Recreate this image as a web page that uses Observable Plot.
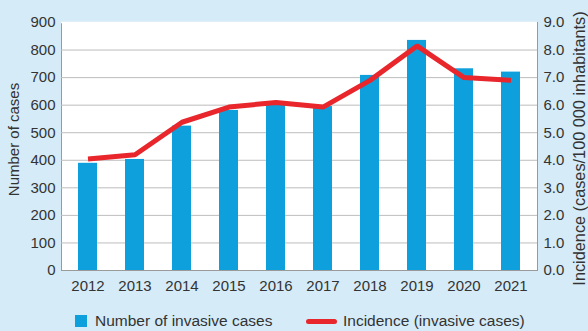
<!DOCTYPE html>
<html>
<head>
<meta charset="utf-8">
<script src="https://cdn.jsdelivr.net/npm/d3@7"></script>
<script src="https://cdn.jsdelivr.net/npm/@observablehq/plot@0.6"></script>
<style>
  html, body { margin: 0; padding: 0; background: #d5ebf8; }
  body { width: 588px; height: 331px; overflow: hidden; font-family: "Liberation Sans", Arial, sans-serif; color: #333; }
  #legend { position: relative; height: 31px; font-size: 15.5px; color: #333; }
  .item { position: absolute; top: 12px; display: flex; align-items: center; white-space: nowrap; }
  .sq { width: 12px; height: 12px; background: #0ea0dc; margin-right: 8px; }
  .ln { width: 31px; height: 5px; border-radius: 3px; background: #e8262b; margin-right: 6px; }
</style>
</head>
<body>
<div id="chart"></div>
<div id="legend"></div>
<script>
const years = ["2012","2013","2014","2015","2016","2017","2018","2019","2020","2021"];
const cases = [389, 403, 524, 581, 606, 595, 708, 835, 732, 720];
const incidence = [4.05, 4.2, 5.38, 5.93, 6.1, 5.93, 6.9, 8.15, 7.0, 6.9];
const leftTicks = [0,100,200,300,400,500,600,700,800,900];
const seriesNames = ["Number of invasive cases", "Incidence (invasive cases)"];
const leftTitle = "Number of cases";
const rightTitle = "Incidence (cases/100 000 inhabitants)";

const data = years.map((y, i) => ({year: y, cases: cases[i], incidence: incidence[i]}));
const blue = "#0ea0dc", red = "#e8262b";

const chart = Plot.plot({
  width: 588,
  height: 300,
  marginTop: 22,
  marginBottom: 30,
  marginLeft: 61,
  marginRight: 51,
  style: {background: "transparent", fontFamily: "'Liberation Sans', Arial, sans-serif", fontSize: "15px", color: "#333"},
  x: {domain: years, paddingInner: 0.6, paddingOuter: 0.3, label: null},
  y: {domain: [0, 900], label: null},
  marks: [
    Plot.frame({fill: "white", stroke: "#9a9a9a"}),
    Plot.gridY(leftTicks.slice(1, -1), {stroke: "#bdbdbd", strokeOpacity: 1}),
    Plot.ruleY([900], {stroke: "white", strokeWidth: 1.5}),
    Plot.barY(data, {x: "year", y: "cases", fill: blue}),
    Plot.line(data, {x: "year", y: d => d.incidence * 100, stroke: red, strokeWidth: 5, strokeLinejoin: "miter", strokeLinecap: "butt"}),
    Plot.axisX({tickSize: 0, tickPadding: 10, label: null}),
    Plot.axisY(leftTicks, {anchor: "left", tickSize: 0, tickPadding: 6, label: null}),
    Plot.axisY(leftTicks, {anchor: "right", tickSize: 0, tickPadding: 6, tickFormat: d => (d / 100).toFixed(1), label: null}),
    Plot.text([leftTitle], {frameAnchor: "left", textAnchor: "middle", lineAnchor: "middle", rotate: -90, dx: -47, dy: -7, fontSize: 15, fill: "#333"}),
    Plot.text([rightTitle], {frameAnchor: "right", textAnchor: "middle", lineAnchor: "middle", rotate: -90, dx: 42, dy: 2, fontSize: 16.3, fill: "#333"})
  ]
});
document.getElementById("chart").appendChild(chart);

const legend = document.getElementById("legend");
legend.innerHTML =
  `<div class="item" style="left:75px"><div class="sq"></div><span>${seriesNames[0]}</span></div>` +
  `<div class="item" style="left:306px"><div class="ln"></div><span>${seriesNames[1]}</span></div>`;
</script>
</body>
</html>
